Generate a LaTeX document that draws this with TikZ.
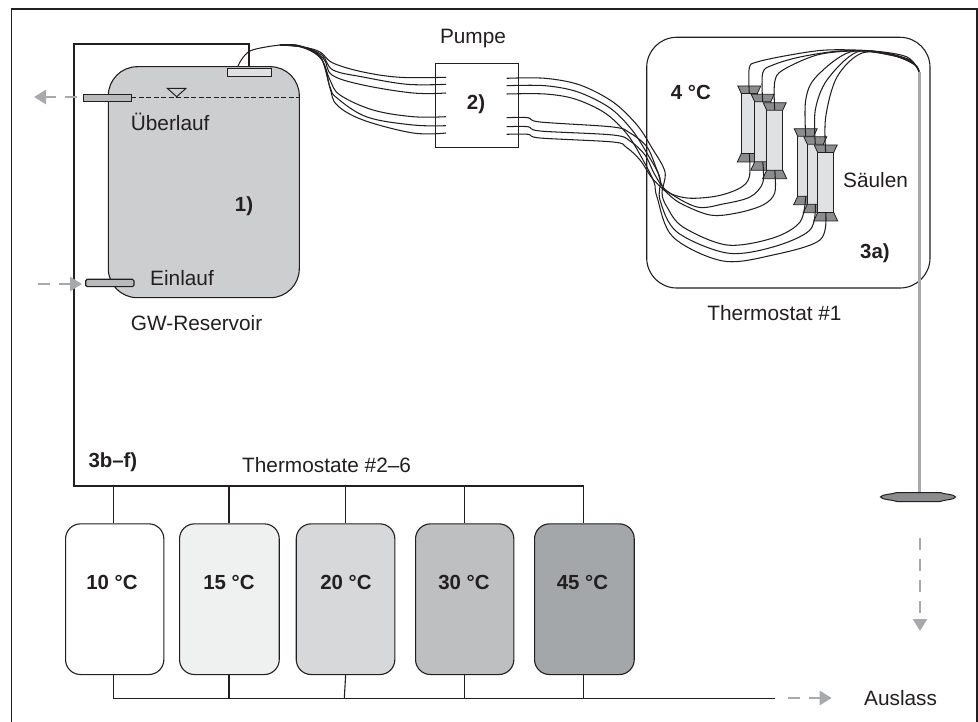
\documentclass[tikz,border=0pt]{standalone}
\usepackage{fontspec}
\setmainfont{Liberation Sans}
\usetikzlibrary{arrows.meta}
\definecolor{ink}{HTML}{231F20}
\definecolor{flow}{HTML}{A7A9AC}
\definecolor{resgray}{HTML}{CDCECF}
\definecolor{funnel}{HTML}{8A8C8E}
\definecolor{colbody}{HTML}{E0E1E2}
\definecolor{pipegray}{HTML}{B9BABC}
\definecolor{tb}{HTML}{EFF0F0}
\definecolor{tc}{HTML}{D7D8DA}
\definecolor{td}{HTML}{BEBFC1}
\definecolor{te}{HTML}{A4A7A9}
\tikzset{
  line/.style={draw=ink,line width=1.1pt},
  pipe/.style={draw=ink,line width=1.05pt,line join=round},
  flowdash/.style={draw=flow,line width=2.6pt,dash pattern=on 12pt off 9pt,-{Triangle[length=12pt,width=14pt]}},
  lab/.style={text=ink,font=\fontsize{20.8}{24}\selectfont,inner sep=0pt},
  bold/.style={text=ink,font=\fontsize{20.4}{24}\selectfont\bfseries,inner sep=0pt},
  therm/.style={line,rounded corners=15pt,minimum height=150.7pt,inner sep=0pt,anchor=north west},
}
\newcommand{\colm}[3]{% name, centre x, top y
  \begin{scope}[shift={(#2,#3)}]
    \fill[colbody,draw=ink,line width=1.05pt] (-8,7) rectangle (8,68);
    \filldraw[fill=funnel,draw=ink,line width=0.8pt] (-11.5,0) -- (11.5,0) -- (8,7.5) -- (-8,7.5) -- cycle;
    \filldraw[fill=funnel,draw=ink,line width=0.8pt] (-8,67.5) -- (8,67.5) -- (12,76) -- (-12,76) -- cycle;
    \coordinate (#1t) at (0,7.5);
    \coordinate (#1b) at (0,67.5);
  \end{scope}}
\begin{document}
\begin{tikzpicture}[x=1pt,y=-1pt]
\useasboundingbox (0,0) rectangle (978,722);
\fill[white] (0,0) rectangle (978,722);
\draw[line,line width=1.4pt] (11.5,722) -- (11.5,9) -- (977,9) -- (977,722);

% collecting line
\draw[line] (249,66) -- (249,44) -- (74,44) -- (74,486) -- (583.7,486) -- (583.7,523);
\foreach \x in {113.3,229,345.7,464.7} \draw[line] (\x,486) -- (\x,523);
\draw[line] (113.3,674) -- (113.3,698.3) -- (775,698.3);
\draw[line] (229,674) -- (229,698.3);
\draw[line] (345.7,674) -- (344.3,698.3);
\draw[line] (464.7,674) -- (464.7,698.3);
\draw[line] (583.7,674) -- (583.7,698.3);

% thermostats 2-6
\node[therm,fill=white,minimum width=98.3pt] (t10) at (65,523.3) {};
\node[bold] at (112,582) {10 °C};
\node[therm,fill=tb,minimum width=99.7pt] (t15) at (179,523.3) {};
\node[bold] at (229,582) {15 °C};
\node[therm,fill=tc,minimum width=98.6pt] (t20) at (295.7,523.3) {};
\node[bold] at (346,582) {20 °C};
\node[therm,fill=td,minimum width=98.3pt] (t30) at (415,523.3) {};
\node[bold] at (464,582) {30 °C};
\node[therm,fill=te,minimum width=99.7pt] (t45) at (534,523.3) {};
\node[bold] at (582.5,582) {45 °C};

% reservoir
\draw[line,fill=resgray,rounded corners=29pt] (108.3,66.7) rectangle (299.3,297.7);
\draw[draw=ink,line width=1.8pt,dash pattern=on 5pt off 2.5pt] (131,97.5) -- (299,97.5);
\filldraw[draw=ink,line width=1pt,fill=resgray] (167.3,88.3) -- (186,88.3) -- (176.7,96.7) -- cycle;
\node[line,fill=colbody,minimum width=44.6pt,minimum height=8.3pt,inner sep=0pt,anchor=north west] (outp) at (226.7,67.7) {};
\node[line,fill=pipegray,minimum width=47.7pt,minimum height=6.4pt,inner sep=0pt,anchor=north west] (over) at (83.3,94.3) {};
\draw[line,fill=pipegray,rounded corners=1.5pt] (85.7,279.3) rectangle (134,286.7);

% flow arrows
\draw[flowdash] (77,97) -- (34,97);
\draw[flowdash] (38,284) -- (82,284);
\draw[flowdash] (787.7,698) -- (831.7,698);
\draw[flowdash] (920,538) -- (920,631);

% pump
\node[line,fill=white,minimum width=83.3pt,minimum height=83.4pt,inner sep=0pt,anchor=north west] (pump) at (434.7,63.3) {};

% thermostat 1
\draw[line,rounded corners=30pt] (646.7,37.3) rectangle (930,288);

% gray outlet and filter
\coordinate (hub) at (919,71.5);
\draw[flow,line width=2.8pt] (919.7,72) -- (919.7,493);
\filldraw[fill=funnel,draw=ink,line width=1pt] (880.5,497) .. controls (882,494) and (892,494.5) .. (897,492.5) -- (940,492.5) .. controls (945,494.5) and (954,494) .. (955.5,497) .. controls (954,500) and (945,499.5) .. (940,501.5) -- (897,501.5) .. controls (892,499.5) and (882,500) .. (880.5,497) -- cycle;

% pump inlet lines
\coordinate (jn) at (280,45);
\begin{scope}[pipe]
\draw plot[smooth,tension=0.6] coordinates {(238,66) (250,51) (jn)};
\draw plot[smooth,tension=0.6] coordinates {(jn) (303,47) (320,52) (333,63) (363,72) (400,77.3) (446,77.3)};
\draw plot[smooth,tension=0.6] coordinates {(jn) (302,47) (322,55) (333,70) (363,77) (407,84.3) (446,84.3)};
\draw plot[smooth,tension=0.6] coordinates {(jn) (301,47) (323,58) (332,75) (363,85) (413,93) (446,93)};
\draw plot[smooth,tension=0.6] coordinates {(jn) (300,46) (320,57) (330,80) (340,95) (373,110) (413,116.7) (446,116.7)};
\draw plot[smooth,tension=0.6] coordinates {(jn) (300,46) (320,56) (330,87) (337,98) (367,117) (413,125) (446,125.7)};
\draw plot[smooth,tension=0.6] coordinates {(jn) (300,46) (322,60) (330,88) (337,105) (363,120) (413,133) (446,133)};
\end{scope}

% columns
\colm{ca}{749.3}{86}
\colm{cb}{762.7}{94.3}
\colm{cc}{774.7}{102.7}
\colm{cd}{805.7}{128.7}
\colm{ce}{815.3}{136.7}
\colm{cf}{825.7}{145}

% column outlet lines
\begin{scope}[pipe]
\draw plot[smooth,tension=0.55] coordinates {(cat) (749.3,68) (757,62) (790,55) (827,50) (873,51) (907,57) (hub)};
\draw plot[smooth,tension=0.55] coordinates {(cbt) (762.7,73) (773,65) (800,57) (840,51) (880,52) (910,60) (hub)};
\draw plot[smooth,tension=0.55] coordinates {(cct) (774.7,82) (783,70) (817,55) (853,51) (885,53) (912,62) (hub)};
\draw plot[smooth,tension=0.55] coordinates {(cdt) (805.7,100) (816,77) (850,52) (890,55) (913,63) (hub)};
\draw plot[smooth,tension=0.55] coordinates {(cet) (815.3,110) (827,80) (857,52) (892,55) (914,64) (hub)};
\draw plot[smooth,tension=0.55] coordinates {(cft) (825.7,117) (837,77) (862,53) (895,56) (915,65) (hub)};
% pump outlet lines to the columns
\draw plot[smooth,tension=0.55] coordinates {(506.7,78.3) (545,78.3) (580,85) (613,102) (637,125) (652,148) (665,172) (662,193) (667,207) (683,227) (727,245) (773,238) (800,222) (cdb)};
\draw plot[smooth,tension=0.55] coordinates {(506.7,85.7) (545,85.7) (578,92) (610,108) (632,130) (648,155) (660,178) (660,200) (677,232) (727,253) (773,247) (810,230) (ceb)};
\draw plot[smooth,tension=0.55] coordinates {(506.7,94) (545,94) (575,99) (605,113) (627,134) (643,160) (654,182) (657,197) (673,237) (723,261) (773,255) (820,240) (cfb)};
\draw plot[smooth,tension=0.55] coordinates {(506.7,117.7) (528,117.7) (540,122) (613,127) (630,133) (647,147) (657,170) (665,190) (687,198) (717,196) (740,188) (749.3,177) (cab)};
\draw plot[smooth,tension=0.55] coordinates {(506.7,126.7) (528,126.7) (540,131) (613,135) (630,141) (645,155) (655,175) (667,191) (697,207) (723,204) (750,197) (762.7,183) (cbb)};
\draw plot[smooth,tension=0.55] coordinates {(506.7,134.3) (528,134.3) (540,138) (613,142) (626,147) (640,160) (652,178) (665,191) (680,203) (710,215) (737,213) (763,205) (774.7,193) (ccb)};
\end{scope}

% texts
\node[lab,anchor=west] (lo) at (130.7,121.7) {Überlauf};
\node[lab,anchor=west] (li) at (150,278) {Einlauf};
\node[lab,anchor=west] (lg) at (130.7,322.7) {GW-Reservoir};
\node[bold] (n1) at (244,206) {1)};
\node[lab] (lp) at (473,39) {Pumpe};
\node[bold] (n2) at (476,104) {2)};
\node[bold,anchor=west] (n4) at (670.7,92) {4 °C};
\node[lab,anchor=west] (ls) at (843,180) {Säulen};
\node[bold,anchor=west] (n3) at (860,253) {3a)};
\node[lab] (lt) at (774.5,313) {Thermostat \#1};
\node[bold,anchor=west] (n5) at (88.3,462) {3b–f)};
\node[lab,anchor=west] (lu) at (242,465) {Thermostate \#2–6};
\node[lab,anchor=west] (la) at (864,698) {Auslass};
\end{tikzpicture}
\end{document}
